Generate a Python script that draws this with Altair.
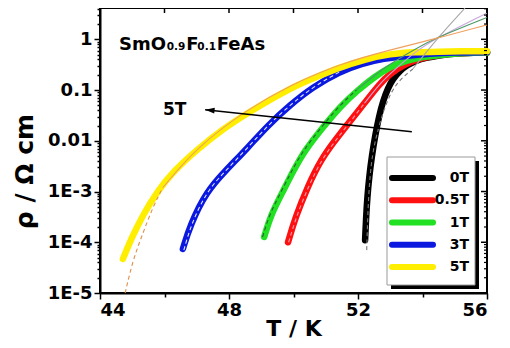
import altair as alt
import pandas as pd

# ---------------- data ----------------
SERIES = ["0T", "0.5T", "1T", "3T", "5T"]
COLORS = ["#000000", "#ff1010", "#22e022", "#0a18e0", "#ffee00"]

T_0T = [52.22, 52.25, 52.29, 52.35, 52.43, 52.53, 52.65, 52.78, 52.93, 53.08, 53.3, 53.52, 53.8, 54.1, 54.5, 55.0, 56.0]
R_0T = [1.1e-4, 3e-4, 8e-4, 2e-3, 5e-3, 0.0125, 0.03, 0.062, 0.11, 0.165, 0.24, 0.31, 0.38, 0.43, 0.48, 0.53, 0.55]

T_05T = [49.83, 50.05, 50.45, 50.85, 51.25, 51.7, 52.2, 52.68, 53.0, 53.4, 53.9, 54.5, 55.2, 56.0]
R_05T = [1e-4, 3e-4, 1.3e-3, 4.2e-3, 9.5e-3, 0.022, 0.055, 0.135, 0.21, 0.31, 0.42, 0.5, 0.54, 0.55]

T_1T = [49.09, 49.3, 49.67, 50.0, 50.36, 50.9, 51.44, 52.0, 52.5, 53.0, 53.5, 54.0, 54.6, 55.3, 56.0]
R_1T = [1.27e-4, 3.5e-4, 1e-3, 2.6e-3, 6.6e-3, 0.018, 0.047, 0.1, 0.18, 0.29, 0.38, 0.45, 0.5, 0.54, 0.55]

T_3T = [46.57, 46.8, 47.3, 47.9, 48.6, 49.2, 49.9, 50.6, 51.44, 52.1, 52.8, 53.5, 54.2, 55.0, 56.0]
R_3T = [7.4e-5, 2.2e-4, 1e-3, 2.6e-3, 7.5e-3, 0.02, 0.051, 0.115, 0.23, 0.33, 0.42, 0.47, 0.52, 0.55, 0.56]

T_5T = [44.71, 45.0, 45.35, 45.77, 46.3, 47.0, 47.8, 48.65, 49.9, 50.7, 51.44, 52.2, 53.0, 53.8, 54.5, 55.2, 56.0]
R_5T = [4.7e-5, 1.3e-4, 3.6e-4, 1e-3, 2.6e-3, 6.6e-3, 0.017, 0.038, 0.11, 0.18, 0.28, 0.4, 0.52, 0.56, 0.57, 0.58, 0.58]

DATA_T = [T_0T, T_05T, T_1T, T_3T, T_5T]
DATA_R = [R_0T, R_05T, R_1T, R_3T, R_5T]

# fit curves: lower (dashed) part and upper (solid) part
FIT0_DT = [52.27, 52.31, 52.37, 52.45, 52.57, 52.72, 52.88, 53.05, 53.25, 53.48, 53.7]
FIT0_DR = [7e-5, 5e-4, 2e-3, 5.5e-3, 0.0125, 0.028, 0.055, 0.095, 0.145, 0.2, 0.26]
FIT0_ST = [53.7, 54.4, 55.32]
FIT0_SR = [0.26, 0.95, 4.14]

FIT05_DT = [49.85, 50.07, 50.47, 50.87, 51.27, 51.72, 52.2]
FIT05_DR = [1e-4, 3e-4, 1.3e-3, 4.2e-3, 9.5e-3, 0.022, 0.055]
FIT05_ST = [52.2, 52.7, 53.1, 53.7, 54.35, 56.0]
FIT05_SR = [0.055, 0.14, 0.24, 0.52, 1.0, 3.3]

FIT1_DT = [49.04, 49.25, 49.62, 49.95, 50.31, 50.85, 51.39, 51.95]
FIT1_DR = [1.27e-4, 3.5e-4, 1e-3, 2.6e-3, 6.6e-3, 0.018, 0.047, 0.1]
FIT1_ST = [51.95, 52.5, 53.0, 53.7, 54.35, 56.0]
FIT1_SR = [0.1, 0.19, 0.33, 0.6, 1.03, 2.7]

FIT3_DT = [46.6, 46.82, 47.3, 47.9, 48.6, 49.2, 49.9, 50.6, 51.44]
FIT3_DR = [7e-5, 2.2e-4, 1e-3, 2.6e-3, 7.5e-3, 0.02, 0.051, 0.115, 0.23]

FIT5_DT = [44.78, 45.02, 45.33, 45.64, 45.95]
FIT5_DR = [1e-5, 4.5e-5, 1.5e-4, 5e-4, 1.2e-3]
FIT5_ST = [45.95, 47.0, 48.6, 49.9, 51.44, 53.0, 54.33, 56.0]
FIT5_SR = [1.2e-3, 0.0075, 0.043, 0.125, 0.33, 0.62, 1.0, 1.93]

FIT_DASHED = [(FIT0_DT, FIT0_DR, "#7a7a7a"), (FIT05_DT, FIT05_DR, "#ff9aa8"),
              (FIT1_DT, FIT1_DR, "#2f5f3a"), (FIT3_DT, FIT3_DR, "#dfe8ff"),
              (FIT5_DT, FIT5_DR, "#e0904a")]
FIT_SOLID = [(FIT0_ST, FIT0_SR, "#a8a8a8"), (FIT05_ST, FIT05_SR, "#c9a6e0"),
             (FIT1_ST, FIT1_SR, "#4a9a66"), (FIT5_ST, FIT5_SR, "#f0a060")]

ARROW_T = [53.67, 47.26]
ARROW_R = [0.015, 0.041]

X_TICKS = [44, 46, 48, 50, 52, 54, 56]
Y_TICK_LABELS = ["1E-5", "1E-4", "1E-3", "0.01", "0.1", "1"]
Y_MAJOR = [1e-5, 1e-4, 1e-3, 1e-2, 1e-1, 1.0]
Y_MINOR = [m * d for d in Y_MAJOR for m in range(2, 10) if m * d <= 4.14]

TITLE_PARTS = [("SmO", 18), ("0.9", 10.5), ("F", 18), ("0.1", 10.5), ("FeAs", 18)]

# ---------------- layout ----------------
W, H = 387, 285
FONT = "DejaVu Sans"
# DejaVu Sans Bold advance widths (em) used to place the formula parts
ADV = {"S": 0.72, "m": 1.042, "O": 0.85, "0": 0.696, ".": 0.38, "9": 0.696, "1": 0.696,
       "F": 0.575, "e": 0.678, "A": 0.774, "s": 0.595}

is_dec = "abs(log(datum.value)/LN10 - round(log(datum.value)/LN10)) < 0.01"
lab_arr = "[" + ",".join("'%s'" % s for s in Y_TICK_LABELS) + "]"
y_label_expr = f"({is_dec}) ? {lab_arr}[round(log(datum.value)/LN10)+5] : ''"

xscale = alt.Scale(domain=[44, 56], nice=False, zero=False)
yscale = alt.Scale(type="log", domain=[1e-5, 4.14], nice=False)

xaxis = alt.Axis(values=X_TICKS, title="T / K",
                 labelExpr="datum.value % 4 == 0 ? datum.label : ''",
                 tickSize={"condition": {"test": "datum.value % 4 == 0", "value": 6}, "value": 4},
                 titleFontSize=22, titlePadding=-1)
yaxis = alt.Axis(values=Y_MAJOR + Y_MINOR, title="ρ / Ω cm",
                 labelExpr=y_label_expr,
                 tickSize={"condition": {"test": is_dec, "value": 6}, "value": 3},
                 titleFontSize=25, titleX=-68, titleY=163, titleBaseline="alphabetic")

X = alt.X("T:Q", scale=xscale, axis=xaxis)
Y = alt.Y("rho:Q", scale=yscale, axis=yaxis)

color_scale = alt.Scale(domain=SERIES, range=COLORS)

main = []

# data bands
for name, ts, rs in zip(SERIES, DATA_T, DATA_R):
    df = pd.DataFrame({"T": ts, "rho": rs, "series": name})
    main.append(alt.Chart(df).mark_line(strokeWidth=6.5, strokeCap="round",
                                        interpolate="basis").encode(
        x=X, y=Y, color=alt.Color("series:N", scale=color_scale, legend=None)))

# fits
for ts, rs, c in FIT_DASHED:
    df = pd.DataFrame({"T": ts, "rho": rs})
    main.append(alt.Chart(df).mark_line(color=c, strokeWidth=1.1, strokeDash=[4, 3],
                                        interpolate="basis").encode(x=X, y=Y))
for ts, rs, c in FIT_SOLID:
    df = pd.DataFrame({"T": ts, "rho": rs})
    main.append(alt.Chart(df).mark_line(color=c, strokeWidth=1.1, clip=True,
                                        interpolate="basis").encode(x=X, y=Y))

# arrow
df_arrow = pd.DataFrame({"T": ARROW_T, "rho": ARROW_R})
main.append(alt.Chart(df_arrow).mark_line(color="black", strokeWidth=1.5).encode(x=X, y=Y))
main.append(alt.Chart(df_arrow.iloc[[1]]).mark_point(
    shape="M0,0L1.8,-0.55L1.8,0.55Z", filled=True, size=110, angle=6, color="black", opacity=1
).encode(x=X, y=Y))

# top / right inward ticks
df_xt = pd.DataFrame({"T": X_TICKS})
main.append(alt.Chart(df_xt).mark_rule(color="black", strokeWidth=1.5).encode(
    x=X, y=alt.value(0), y2=alt.value(5)))
df_ymaj = pd.DataFrame({"rho": Y_MAJOR})
main.append(alt.Chart(df_ymaj).mark_rule(color="black", strokeWidth=1.5).encode(
    y=Y, x=alt.value(W), x2=alt.value(W - 6)))
df_ymin = pd.DataFrame({"rho": Y_MINOR})
main.append(alt.Chart(df_ymin).mark_rule(color="black", strokeWidth=1.2).encode(
    y=Y, x=alt.value(W), x2=alt.value(W - 3)))


# texts
def txt(s, x, y, size, align="left"):
    return alt.Chart(pd.DataFrame({"a": [0]})).mark_text(
        text=s, font=FONT, fontWeight="bold", fontSize=size, align=align,
        baseline="alphabetic", color="black").encode(x=alt.value(x), y=alt.value(y))


xpos = 19
for s, size in TITLE_PARTS:
    main.append(txt(s, xpos, 42, size))
    xpos += sum(ADV[ch] for ch in s) * size + 0.8
main.append(txt("5T", 63, 107, 17))

main_layer = alt.layer(*main)

# ---------------- legend (box with shadow, drawn from the series arrays) ----------------
LX0, LX1, LY0, LY1 = 287, 375, 149, 277
one = pd.DataFrame({"a": [0]})
shadow = alt.Chart(one).mark_rect(color="black").encode(
    x=alt.value(LX0 + 4), x2=alt.value(LX1 + 4), y=alt.value(LY0 + 4), y2=alt.value(LY1 + 4))
box = alt.Chart(one).mark_rect(fill="white", stroke="#9a9a9a", strokeWidth=1).encode(
    x=alt.value(LX0), x2=alt.value(LX1), y=alt.value(LY0), y2=alt.value(LY1))
df_leg = pd.DataFrame({"series": SERIES, "row": list(range(len(SERIES)))})
row_y = alt.Y("row:Q", scale=alt.Scale(domain=[0, 4], range=[170, 259]), axis=None)
leg_lines = alt.Chart(df_leg).mark_rule(strokeWidth=6, strokeCap="round").encode(
    y=row_y, x=alt.value(LX0 + 5), x2=alt.value(LX0 + 46),
    color=alt.Color("series:N", scale=color_scale, legend=None))
leg_text = alt.Chart(df_leg).mark_text(font=FONT, fontWeight="bold", fontSize=14,
                                       align="right", baseline="middle", color="black").encode(
    y=row_y, x=alt.value(LX1 - 6), text="series:N")
legend_layer = alt.layer(shadow, box, leg_lines, leg_text)

chart = alt.layer(main_layer, legend_layer).resolve_scale(y="independent").properties(
    width=W, height=H,
    autosize=alt.AutoSizeParams(type="none"),
    padding={"left": 92, "top": 0, "right": 15, "bottom": 47},
).configure_view(stroke="black", strokeWidth=2).configure_axis(
    domainColor="black", domainWidth=2, tickColor="black", tickWidth=1.5,
    labelFont=FONT, labelFontWeight="bold", labelFontSize=18, labelColor="black",
    labelPadding=2, titleFont=FONT, titleFontWeight="bold", titleColor="black", grid=False
)

chart.save("out.html", embed_options={"renderer": "svg", "actions": False})
